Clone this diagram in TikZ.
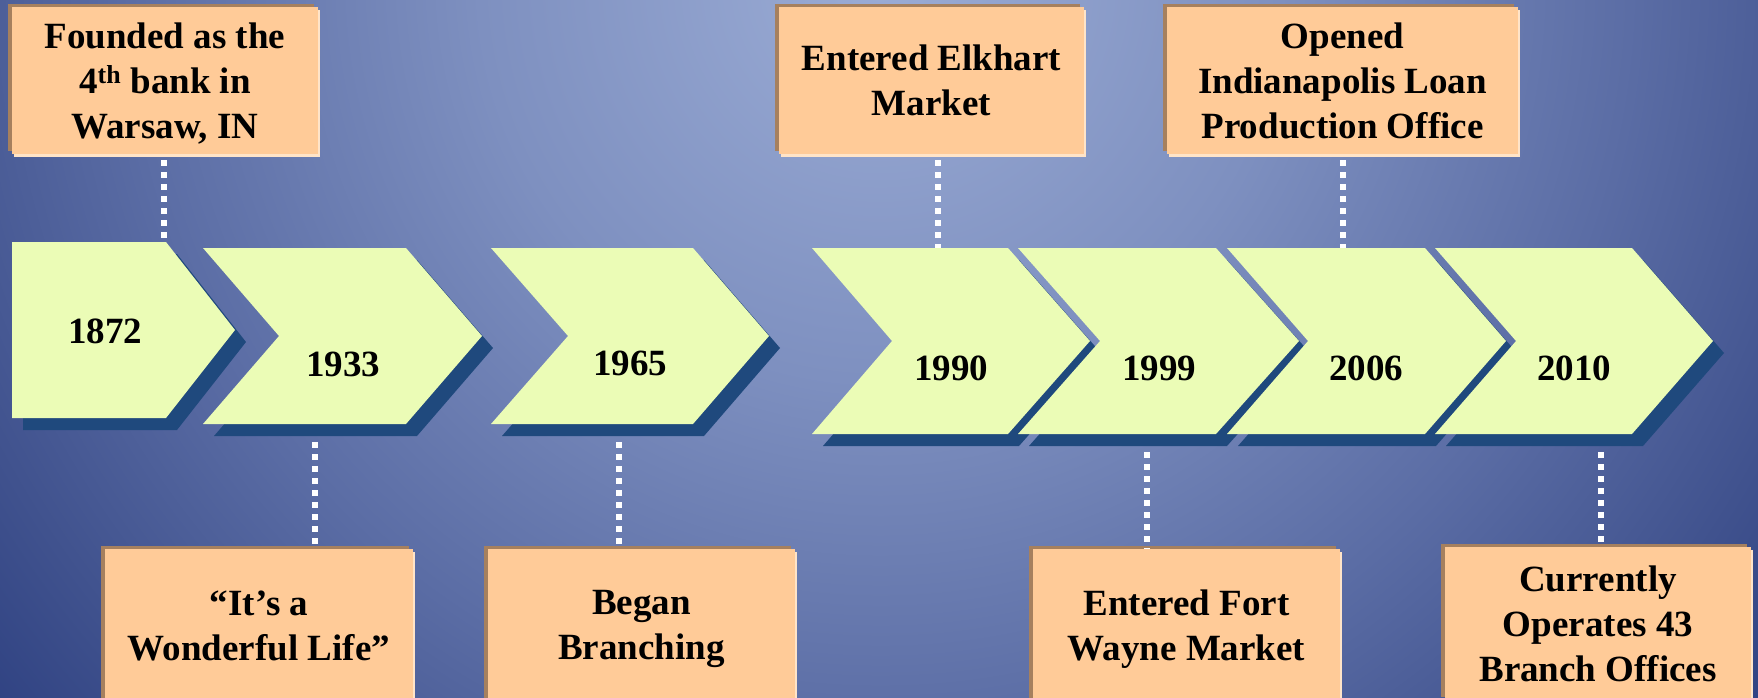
\documentclass[tikz,border=0pt]{standalone}
\usepackage{fontspec}
\setmainfont{Liberation Serif}
\usetikzlibrary{shadows}
\definecolor{bgA}{HTML}{9BACD5}
\definecolor{bgB}{HTML}{7E90C0}
\definecolor{bgC}{HTML}{5B6DA5}
\definecolor{bgD}{HTML}{40528E}
\definecolor{bgE}{HTML}{24377A}
\definecolor{chevfill}{HTML}{EBFCB6}
\definecolor{chevshadow}{HTML}{1F497D}
\definecolor{boxfill}{HTML}{FFCB98}
\definecolor{boxdark}{HTML}{A6805E}
\definecolor{boxlight}{HTML}{FFE4C8}
\pgfdeclareradialshading{bgshade}{\pgfpoint{0bp}{0bp}}{color(0bp)=(bgA); color(8bp)=(bgB); color(15bp)=(bgC); color(20bp)=(bgD); color(25bp)=(bgE); color(50bp)=(bgE)}
\newcommand\mystrut{\rule[-8pt]{0pt}{41pt}}
\newcommand\mychevshadow[6]{%
  \pgfmathsetmacro\ym{(#3+#4)/2}%
  \pgfmathsetmacro\xp{#2+#5}%
  \pgfmathsetmacro\xn{#1+#6}%
  \fill[chevshade, shift={(11,12)}] (#1,#3) -- (#2,#3) -- (\xp,\ym) -- (#2,#4) -- (#1,#4) -- (\xn,\ym) -- cycle;}
\newcommand\mychevbody[6]{%
  \pgfmathsetmacro\ym{(#3+#4)/2}%
  \pgfmathsetmacro\xp{#2+#5}%
  \pgfmathsetmacro\xn{#1+#6}%
  \fill[chevbody] (#1,#3) -- (#2,#3) -- (\xp,\ym) -- (#2,#4) -- (#1,#4) -- (\xn,\ym) -- cycle;}
\begin{document}
\begin{tikzpicture}[x=1pt,y=-1pt,
  evtbox/.style={fill=boxfill, inner sep=0pt, align=center,
    font=\bfseries\fontsize{37}{45}\selectfont,
    general shadow={fill=boxdark, shadow xshift=-4pt, shadow yshift=3pt},
    general shadow={fill=boxlight, shadow xshift=2pt, shadow yshift=-3pt}},
  yeartext/.style={font=\bfseries\fontsize{37}{45}\selectfont, anchor=base, inner sep=0pt},
  conn/.style={draw=white, line width=6pt, dash pattern=on 6pt off 6pt, dash phase=6pt},
  chevbody/.style={fill=chevfill},
  chevshade/.style={fill=chevshadow}]
\useasboundingbox (0,0) rectangle (1758,697);
\clip (0,0) rectangle (1758,697);
% background
\fill[bgE] (0,0) rectangle (1758,697);
\shade[shading=bgshade] (880,-20) circle[radius=1250pt];
% chevron shadows
\mychevshadow{12}{166}{242}{418}{69}{0}
\mychevshadow{203}{406}{248}{424}{76}{76}
\mychevshadow{491}{693}{248}{424}{76}{77}
\mychevshadow{812}{1008}{248}{434}{82}{80}
\mychevshadow{1018}{1216}{248}{434}{83}{82}
\mychevshadow{1227}{1425}{248}{434}{81}{81}
\mychevshadow{1435}{1632}{248}{434}{81}{81}
% chevron bodies
\mychevbody{12}{166}{242}{418}{69}{0}
\mychevbody{203}{406}{248}{424}{76}{76}
\mychevbody{491}{693}{248}{424}{76}{77}
\mychevbody{812}{1008}{248}{434}{82}{80}
\mychevbody{1018}{1216}{248}{434}{83}{82}
\mychevbody{1227}{1425}{248}{434}{81}{81}
\mychevbody{1435}{1632}{248}{434}{81}{81}
% year labels
\node[yeartext] (y1872) at (105,343) {1872};
\node[yeartext] (y1933) at (343,376) {1933};
\node[yeartext] (y1965) at (630,375) {1965};
\node[yeartext] (y1990) at (951,380) {1990};
\node[yeartext] (y1999) at (1159,380) {1999};
\node[yeartext] (y2006) at (1366,380) {2006};
\node[yeartext] (y2010) at (1574,380) {2010};
% connection points on chevrons
\coordinate (c1872) at (164,242);
\coordinate (c1933) at (315,436);
\coordinate (c1965) at (619,436);
\coordinate (c1990) at (938,248);
\coordinate (c1999) at (1147,446);
\coordinate (c2006) at (1343,248);
\coordinate (c2010) at (1601,446);
% event boxes
\node[evtbox, minimum width=306pt, minimum height=147pt] (b1872) at (165,80.5)
  {\mystrut Founded as the\\\mystrut 4\textsuperscript{th} bank in\\\mystrut Warsaw, IN};
\node[evtbox, minimum width=305pt, minimum height=147pt] (b1990) at (931.5,80.5)
  {\mystrut Entered Elkhart\\\mystrut Market};
\node[evtbox, minimum width=351pt, minimum height=147pt] (b2006) at (1342.5,80.5)
  {\mystrut Opened\\\mystrut Indianapolis Loan\\\mystrut Production Office};
\node[evtbox, minimum width=308pt, minimum height=152pt] (b1933) at (259,625)
  {\mystrut “It’s a\\\mystrut Wonderful Life”};
\node[evtbox, minimum width=307pt, minimum height=152pt] (b1965) at (641.5,625)
  {\mystrut Began\\\mystrut Branching};
\node[evtbox, minimum width=307pt, minimum height=152pt] (b1999) at (1186.5,625)
  {\mystrut Entered Fort\\\mystrut Wayne Market};
\node[evtbox, minimum width=306pt, minimum height=153pt] (b2010) at (1598,623.5)
  {\mystrut Currently\\\mystrut Operates 43\\\mystrut Branch Offices};
% connectors
\draw[conn] (b1872.south -| c1872) -- (c1872);
\draw[conn] (b1990.south -| c1990) -- (c1990);
\draw[conn] (b2006.south -| c2006) -- (c2006);
\draw[conn] (c1933) -- (b1933.north -| c1933);
\draw[conn] (c1965) -- (b1965.north -| c1965);
\draw[conn] (c1999) -- (b1999.north -| c1999);
\draw[conn] (c2010) -- (b2010.north -| c2010);
\end{tikzpicture}
\end{document}
